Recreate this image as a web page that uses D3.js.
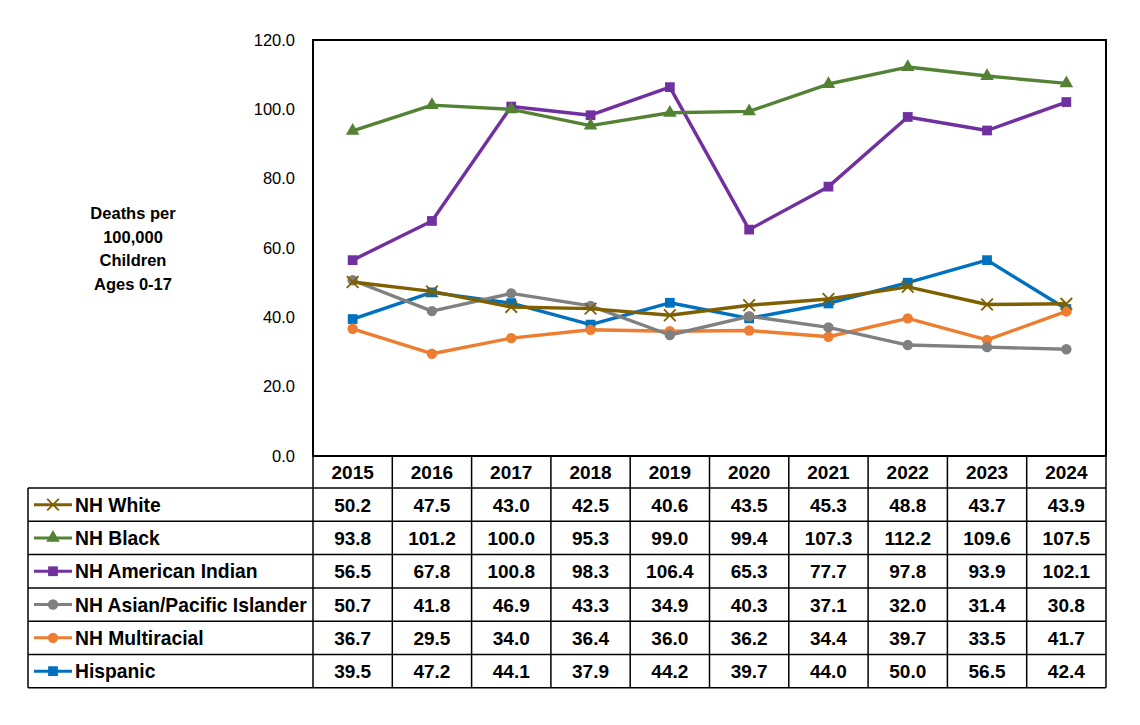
<!DOCTYPE html>
<html>
<head>
<meta charset="utf-8">
<script src="https://cdn.jsdelivr.net/npm/d3@7"></script>
<style>
  body { margin: 0; background: #fff; }
  text { font-family: "Liberation Sans", Arial, sans-serif; }
</style>
</head>
<body>
<div id="chart"></div>
<script>
// Years shown along the x axis and in the table header
var years = ["2015", "2016", "2017", "2018", "2019", "2020", "2021", "2022", "2023", "2024"];

// Series values (deaths per 100,000 children)
var nhWhite = [50.2, 47.5, 43.0, 42.5, 40.6, 43.5, 45.3, 48.8, 43.7, 43.9];
var nhBlack = [93.8, 101.2, 100.0, 95.3, 99.0, 99.4, 107.3, 112.2, 109.6, 107.5];
var nhAmInd = [56.5, 67.8, 100.8, 98.3, 106.4, 65.3, 77.7, 97.8, 93.9, 102.1];
var nhAsian = [50.7, 41.8, 46.9, 43.3, 34.9, 40.3, 37.1, 32.0, 31.4, 30.8];
var nhMulti = [36.7, 29.5, 34.0, 36.4, 36.0, 36.2, 34.4, 39.7, 33.5, 41.7];
var hispanic = [39.5, 47.2, 44.1, 37.9, 44.2, 39.7, 44.0, 50.0, 56.5, 42.4];

var seriesNames = ["NH White", "NH Black", "NH American Indian", "NH Asian/Pacific Islander", "NH Multiracial", "Hispanic"];
var yTicks = [0, 20, 40, 60, 80, 100, 120];

var series = [
    { name: seriesNames[0], values: nhWhite, color: "#7F6000", marker: "x" },
    { name: seriesNames[1], values: nhBlack, color: "#548235", marker: "triangle" },
    { name: seriesNames[2], values: nhAmInd, color: "#7030A0", marker: "square" },
    { name: seriesNames[3], values: nhAsian, color: "#808080", marker: "circle" },
    { name: seriesNames[4], values: nhMulti, color: "#ED7D31", marker: "circle" },
    { name: seriesNames[5], values: hispanic, color: "#0070C0", marker: "square" }
];

var width = 1140, height = 725;
var plotLeft = 313, plotRight = 1106, plotTop = 40, plotBottom = 456;
var tableLeft = 28, headerH = 32, rowH = 33.3;

var svg = d3.select("#chart").append("svg")
    .attr("width", width)
    .attr("height", height);

// Scales
var x = d3.scaleBand().domain(years).range([plotLeft, plotRight]);
var y = d3.scaleLinear().domain([0, 120]).range([plotBottom, plotTop]);

// Plot frame
svg.append("rect")
    .attr("x", plotLeft)
    .attr("y", plotTop)
    .attr("width", plotRight - plotLeft)
    .attr("height", plotBottom - plotTop)
    .attr("fill", "none")
    .attr("stroke", "#000")
    .attr("stroke-width", 2);

// Y axis ticks (labels only)
var yAxis = d3.axisLeft(y).tickValues(yTicks).tickSize(0).tickPadding(18)
    .tickFormat(d3.format(".1f"));
svg.append("g")
    .attr("transform", "translate(" + plotLeft + ",0)")
    .call(yAxis)
    .call(function (g) { g.select(".domain").remove(); })
    .selectAll("text")
    .style("font-size", "16.5px")
    .style("font-family", "'Liberation Sans', Arial, sans-serif")
    .attr("fill", "#000");

// Y axis title
var yTitle = ["Deaths per", "100,000", "Children", "Ages 0-17"];
svg.append("g").selectAll("text")
    .data(yTitle).enter()
    .append("text")
    .attr("x", 133)
    .attr("y", function (d, i) { return 219 + i * 23.5; })
    .attr("text-anchor", "middle")
    .style("font-size", "16.5px")
    .style("font-weight", "bold")
    .text(function (d) { return d; });

// Lines
var line = d3.line()
    .x(function (d, i) { return x(years[i]) + x.bandwidth() / 2; })
    .y(function (d) { return y(d); });

var symbolFor = function (m) {
    if (m === "triangle") return d3.symbol().type(d3.symbolTriangle).size(80)();
    if (m === "square") return d3.symbol().type(d3.symbolSquare).size(95)();
    if (m === "circle") return d3.symbol().type(d3.symbolCircle).size(85)();
    return d3.symbol().type(d3.symbolTimes).size(90)();
};

// draw in reverse so NH White sits on top like the original
var seriesG = svg.append("g").selectAll("g")
    .data(series.slice().reverse()).enter()
    .append("g");

seriesG.append("path")
    .attr("d", function (d) { return line(d.values); })
    .attr("fill", "none")
    .attr("stroke", function (d) { return d.color; })
    .attr("stroke-width", 3.4)
    .attr("stroke-linejoin", "round");

seriesG.each(function (s) {
    d3.select(this).selectAll(".mk")
        .data(s.values).enter()
        .append("path")
        .attr("class", "mk")
        .attr("transform", function (d, i) {
            return "translate(" + (x(years[i]) + x.bandwidth() / 2) + "," + y(d) + ")";
        })
        .attr("d", symbolFor(s.marker))
        .attr("fill", s.marker === "x" ? "none" : s.color)
        .attr("stroke", s.color)
        .attr("stroke-width", s.marker === "x" ? 1.8 : 0);
});

// Data table
var table = svg.append("g");

// header row cells
table.selectAll(".hdr")
    .data(years).enter()
    .append("text")
    .attr("x", function (d) { return x(d) + x.bandwidth() / 2; })
    .attr("y", plotBottom + headerH / 2 + 7)
    .attr("text-anchor", "middle")
    .style("font-size", "19px")
    .style("font-weight", "bold")
    .text(function (d) { return d; });

var rowsTop = plotBottom + headerH;
var tableBottom = rowsTop + rowH * series.length;

// grid lines
table.append("line")
    .attr("x1", plotLeft).attr("x2", plotLeft)
    .attr("y1", plotBottom).attr("y2", tableBottom)
    .attr("stroke", "#000").attr("stroke-width", 1.5);
table.selectAll(".vline")
    .data(years).enter()
    .append("line")
    .attr("x1", function (d) { return x(d) + x.bandwidth(); })
    .attr("x2", function (d) { return x(d) + x.bandwidth(); })
    .attr("y1", plotBottom)
    .attr("y2", tableBottom)
    .attr("stroke", "#000").attr("stroke-width", 1.5);
table.append("line")
    .attr("x1", tableLeft).attr("x2", tableLeft)
    .attr("y1", rowsTop).attr("y2", tableBottom)
    .attr("stroke", "#000").attr("stroke-width", 1.5);
table.selectAll(".hline")
    .data(d3.range(series.length + 1)).enter()
    .append("line")
    .attr("x1", tableLeft)
    .attr("x2", plotRight)
    .attr("y1", function (i) { return rowsTop + i * rowH; })
    .attr("y2", function (i) { return rowsTop + i * rowH; })
    .attr("stroke", "#000").attr("stroke-width", 1.5);

var rows = table.selectAll(".row")
    .data(series).enter()
    .append("g")
    .attr("transform", function (d, i) { return "translate(0," + (rowsTop + i * rowH) + ")"; });

// legend key inside each row
rows.append("line")
    .attr("x1", 34).attr("x2", 72)
    .attr("y1", rowH / 2).attr("y2", rowH / 2)
    .attr("stroke", function (d) { return d.color; })
    .attr("stroke-width", 3);
rows.append("path")
    .attr("transform", "translate(53," + rowH / 2 + ")")
    .attr("d", function (d) { return symbolFor(d.marker); })
    .attr("fill", function (d) { return d.marker === "x" ? "none" : d.color; })
    .attr("stroke", function (d) { return d.color; })
    .attr("stroke-width", function (d) { return d.marker === "x" ? 1.8 : 0; });
rows.append("text")
    .attr("x", 75)
    .attr("y", rowH / 2 + 7)
    .style("font-size", "19.3px")
    .style("font-weight", "bold")
    .text(function (d) { return d.name; });

rows.each(function (s) {
    d3.select(this).selectAll(".val")
        .data(s.values).enter()
        .append("text")
        .attr("x", function (d, i) { return x(years[i]) + x.bandwidth() / 2; })
        .attr("y", rowH / 2 + 7)
        .attr("text-anchor", "middle")
        .style("font-size", "19px")
        .style("font-weight", "bold")
        .text(function (d) { return d.toFixed(1); });
});
</script>
</body>
</html>
